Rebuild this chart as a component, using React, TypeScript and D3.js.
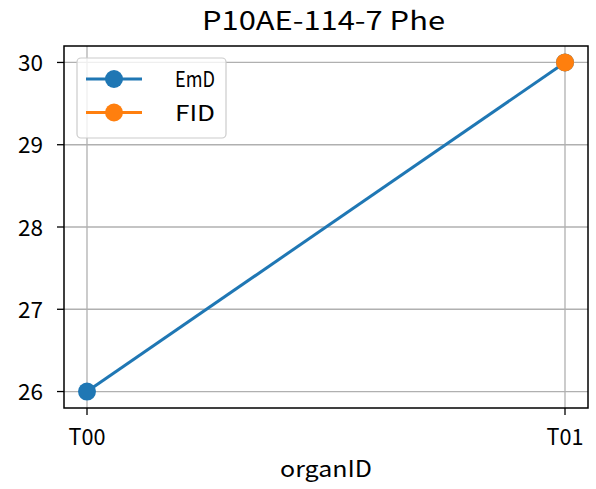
import React from "react";
import * as d3 from "d3";

const categories = ["T00", "T01"];
const emdValues = [26, 30];
const fidValues: (number | null)[] = [null, 30];
const yTicks = [26, 27, 28, 29, 30];
const seriesNames = ["EmD", "FID"];
const colors = ["#1f77b4", "#ff7f0e"];

const W = 596, H = 489;
const L = 64, R = 588, T = 46, B = 408;
const FONT = "'Noto Sans CJK SC', 'DejaVu Sans', sans-serif";

export default function App() {
  const x = d3.scalePoint<string>().domain(categories).range([87, 565]);
  const y = d3.scaleLinear().domain([25.8, 30.2]).range([B, T]);
  const line = d3.line<[string, number | null]>()
    .defined((d) => d[1] != null)
    .x((d) => x(d[0])!)
    .y((d) => y(d[1] as number));
  const series = [emdValues, fidValues];
  return (
    <svg width={W} height={H} style={{ position: "absolute", left: 0, top: 0 }} fontFamily={FONT}>
      <rect width={W} height={H} fill="#fff" />
      <text x={323.5} y={29.5} textAnchor="middle" fontSize={26} fill="#000" textLength={243} lengthAdjust="spacingAndGlyphs">P10AE-114-7 Phe</text>
      {/* grid */}
      {categories.map((c) => (
        <line key={c} x1={x(c)} x2={x(c)} y1={T} y2={B} stroke="#b0b0b0" strokeWidth={1.3} />
      ))}
      {yTicks.map((t) => (
        <line key={t} x1={L} x2={R} y1={y(t)} y2={y(t)} stroke="#b0b0b0" strokeWidth={1.3} />
      ))}
      {/* series */}
      {series.map((s, i) => (
        <g key={i}>
          <path d={line(categories.map((c, j) => [c, s[j]]))!} fill="none" stroke={colors[i]} strokeWidth={3} />
          {s.map((v, j) => v == null ? null : (
            <circle key={j} cx={x(categories[j])} cy={y(v)} r={9} fill={colors[i]} />
          ))}
        </g>
      ))}
      {/* spines */}
      <rect x={L} y={T} width={R - L} height={B - T} fill="none" stroke="#000" strokeWidth={1.5} />
      {/* y ticks */}
      {yTicks.map((t) => (
        <g key={t}>
          <line x1={L - 7} x2={L} y1={y(t)} y2={y(t)} stroke="#000" strokeWidth={1.3} />
          <text x={43} y={y(t) + 8.5} textAnchor="end" fontSize={22.5} fill="#000" textLength={25} lengthAdjust="spacingAndGlyphs">{t}</text>
        </g>
      ))}
      {/* x ticks */}
      {categories.map((c) => (
        <g key={c}>
          <line x1={x(c)} x2={x(c)} y1={B} y2={B + 7} stroke="#000" strokeWidth={1.3} />
          <text x={x(c)} y={445} textAnchor="middle" fontSize={22.5} fill="#000" textLength={37} lengthAdjust="spacingAndGlyphs">{c}</text>
        </g>
      ))}
      <text x={326} y={477} textAnchor="middle" fontSize={22.5} fill="#000" textLength={92} lengthAdjust="spacingAndGlyphs">organID</text>
      {/* legend */}
      <rect x={77} y={58} width={149} height={80} rx={4} fill="#fff" fillOpacity={0.8} stroke="#cccccc" strokeWidth={1.2} />
      {seriesNames.map((n, i) => (
        <g key={n}>
          <line x1={86} x2={142} y1={79 + i * 33.5} y2={79 + i * 33.5} stroke={colors[i]} strokeWidth={3} />
          <circle cx={114} cy={79 + i * 33.5} r={9} fill={colors[i]} />
          <text x={175} y={79 + i * 33.5 + 8} fontSize={22} fill="#000" textLength={40} lengthAdjust="spacingAndGlyphs">{n}</text>
        </g>
      ))}
    </svg>
  );
}
